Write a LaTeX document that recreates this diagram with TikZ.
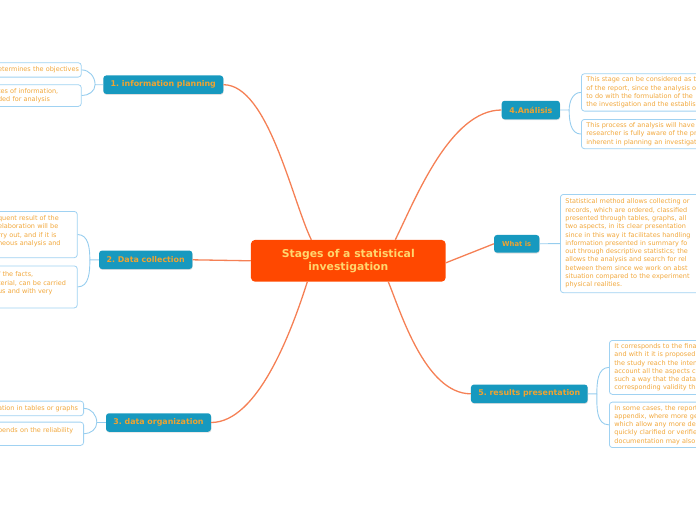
\documentclass[tikz,border=0pt]{standalone}
\usepackage{fontspec}
\setmainfont{DejaVu Sans}
\usepackage{xcolor}
\usetikzlibrary{positioning,shadows}
\definecolor{rootfill}{RGB}{255,72,0}
\definecolor{roottext}{RGB}{255,214,110}
\definecolor{topicfill}{RGB}{23,153,191}
\definecolor{topictext}{RGB}{240,163,48}
\definecolor{leaftext}{RGB}{242,168,60}
\definecolor{leafline}{RGB}{160,210,242}
\definecolor{linkcol}{RGB}{245,128,85}
\definecolor{twigcol}{RGB}{150,205,238}

\begin{document}
\frenchspacing
\begin{tikzpicture}[x=1pt,y=-1pt,
root/.style={fill=rootfill,text=roottext,rounded corners=4pt,align=center,
  font=\fontsize{10.8}{13.4}\selectfont\bfseries,minimum width=194.7pt,minimum height=41.7pt},
topic/.style={fill=topicfill,text=topictext,rounded corners=3pt,minimum height=18.5pt,
  font=\fontsize{7.9}{9}\selectfont\bfseries,inner sep=2pt,
  drop shadow={shadow xshift=0.4pt,shadow yshift=-0.9pt,opacity=0.25}},
leaf/.style={draw=leafline,fill=white,text=leaftext,rounded corners=3pt,line width=0.8pt,
  align=left,inner xsep=5pt,inner ysep=3pt,font=\fontsize{6.5}{8.3}\selectfont},
lleaf/.style={leaf,anchor=north east,inner xsep=4pt},
rleaf/.style={leaf,anchor=north west,text width=150pt},
link/.style={draw=linkcol,line width=1.3pt},
twig/.style={draw=twigcol,line width=0.9pt}]
\useasboundingbox (0,0) rectangle (696,520);
\clip (0,0) rectangle (696,520);

% central topic and branches
\node[root] (root) at (348.3,260.8) {Stages of a statistical\\investigation};
\node[topic,minimum width=120pt] (t1) at (163.3,84.7) {1. information planning};
\node[topic,minimum width=93.3pt] (t2) at (145.7,259.8) {2. Data collection};
\node[topic,minimum width=105pt] (t3) at (158.5,422.5) {3. data organization};
\node[topic,minimum width=58.3pt] (t4) at (530.8,110) {4.Análisis};
\node[topic,minimum width=45.3pt,minimum height=17.7pt,font=\fontsize{6.8}{8}\selectfont\bfseries] (what) at (516.7,243.8) {What is};
\node[topic,minimum width=116.7pt] (t5) at (529.3,393.8) {5. results presentation};

% left leaves
\node[lleaf,text width=79.2pt,minimum height=14.4pt] (p1) at (81.7,62.3) {\mbox{etermines the objectives}};
\node[lleaf,text width=79.2pt,minimum height=21.7pt] (p2) at (81.7,84.3) {tes of information,\\ded for analysis};
\node[lleaf,text width=75.2pt,minimum height=46.3pt] (c1) at (77.7,211) {quent result of the\\elaboration will be\\rry out, and if it is\\neous analysis and\\\mbox{}};
\node[lleaf,text width=75.2pt,minimum height=42pt] (c2) at (77.7,265.5) {f the facts,\\terial, can be carried\\us and with very\\\mbox{}};
\node[lleaf,text width=81.5pt,minimum height=14.6pt] (o1) at (84,400.7) {ation in tables or graphs};
\node[lleaf,text width=81.5pt,minimum height=23.3pt] (o2) at (84,421.7) {pends on the reliability\\\mbox{}};

% right leaves
\node[rleaf,minimum height=37.4pt] (a1) at (581,73.3) {This stage can be considered as th\\of the report, since the analysis o\\to do with the formulation of the \\the investigation and the establis};
\node[rleaf,minimum height=29.3pt] (a2) at (581,119) {This process of analysis will have\\researcher is fully aware of the pr\\inherent in planning an investigat};
\node[rleaf,minimum height=98.3pt] (w1) at (560,194) {Statistical method allows collecting or\\records, which are ordered, classified\\presented through tables, graphs, all\\two aspects, in its clear presentation\\since in this way it facilitates handling\\information presented in summary fo\\out through descriptive statistics; the\\allows the analysis and search for rel\\between them since we work on abst\\situation compared to the experiment\\physical realities.};
\node[rleaf,minimum height=54pt] (r1) at (609,340) {It corresponds to the fina\\and with it it is proposed\\the study reach the inten\\account all the aspects co\\such a way that the data\\corresponding validity tha};
\node[rleaf,minimum height=45.3pt] (r2) at (609,401.7) {In some cases, the report\\appendix, where more ge\\which allow any more de\\quickly clarified or verifie\\documentation may also};

% junctions
\coordinate (j1) at ([xshift=-8pt]t1.west);
\coordinate (j2) at ([xshift=-9pt]t2.west);
\coordinate (j3) at ([xshift=-9pt]t3.west);
\coordinate (j4) at ([xshift=9pt]t4.east);
\coordinate (j5) at ([xshift=9pt]t5.east);

% main links
\draw[link] ([xshift=-37pt]root.north) .. controls (292,200) and (268,84.7) .. (t1.east);
\draw[link] (root.west) -- (t2.east);
\draw[link] ([xshift=-41pt]root.south) .. controls (292,330) and (258,422.5) .. (t3.east);
\draw[link] ([xshift=47pt]root.north) .. controls (415,200) and (450,110) .. (t4.west);
\draw[link] ([yshift=-2pt]root.east) -- (what.west);
\draw[link] ([xshift=40pt]root.south) .. controls (400,310) and (425,393.8) .. (t5.west);

% leaf links
\draw[twig] (t1.west) -- (j1) to[out=90,in=0] (p1.east);
\draw[twig] (j1) to[out=-90,in=0] (p2.east);
\draw[twig] (t2.west) -- (j2) to[out=90,in=0] (c1.east);
\draw[twig] (j2) to[out=-90,in=0] (c2.east);
\draw[twig] (t3.west) -- (j3) to[out=90,in=0] (o1.east);
\draw[twig] (j3) to[out=-90,in=0] (o2.east);
\draw[twig] (t4.east) -- (j4) to[out=90,in=180] (a1.west);
\draw[twig] (j4) to[out=-90,in=180] (a2.west);
\draw[twig] (what.east) -- (w1.west);
\draw[twig] (t5.east) -- (j5) to[out=90,in=180] (r1.west);
\draw[twig] (j5) to[out=-90,in=180] (r2.west);
\end{tikzpicture}
\end{document}
